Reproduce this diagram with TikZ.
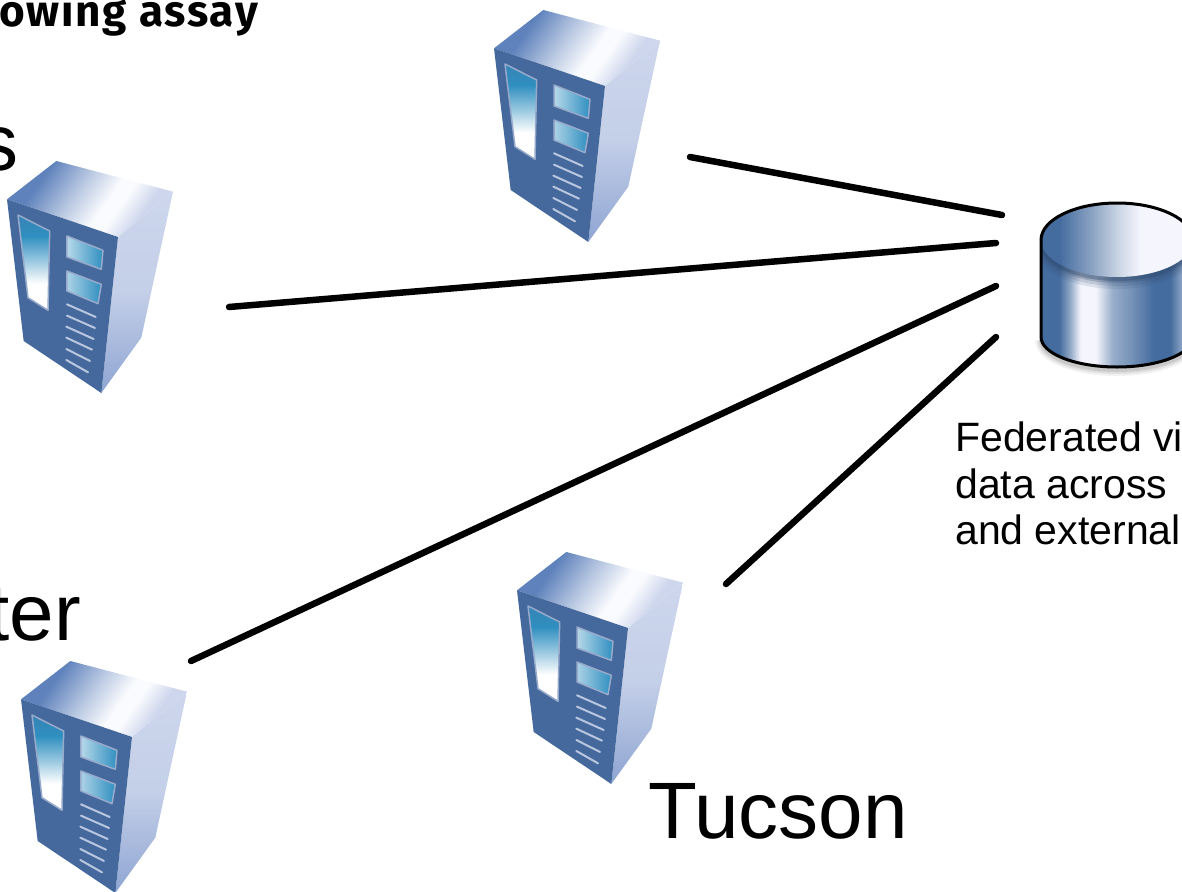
\documentclass[tikz,border=0pt]{standalone}
\usepackage{fontspec}
\setmainfont{Liberation Sans}
\newfontfamily\headfont[LetterSpace=4]{Fira Sans}
\definecolor{cylb}{HTML}{456C9F}
\definecolor{cylw}{HTML}{F4F5FD}
\definecolor{front}{HTML}{45699C}
\definecolor{winb}{HTML}{2F8FC0}
\definecolor{topb}{HTML}{5F82BC}
\definecolor{topl}{HTML}{FAFBFE}
\definecolor{sidel}{HTML}{CDD6EC}
\definecolor{sided}{HTML}{8EA5D2}
\pgfdeclarehorizontalshading{cylside}{100bp}{
 color(0bp)=(cylb); color(31bp)=(cylb); color(34.5bp)=(cylb!60!white); color(38bp)=(cylw);
 color(43bp)=(cylw); color(48.5bp)=(cylb!55!white); color(55bp)=(cylb!75!white); color(62bp)=(cylb);
 color(67.5bp)=(cylb); color(71.5bp)=(cylb!60!white); color(75bp)=(cylb!40!white); color(100bp)=(cylb!40!white)}
\pgfdeclarehorizontalshading{cyltop}{100bp}{
 color(0bp)=(cylb); color(31bp)=(cylb); color(42.5bp)=(cylb!60!white); color(50bp)=(cylb!30!white); color(57.5bp)=(cylw); color(100bp)=(cylw)}
\pgfdeclarehorizontalshading{topface}{100bp}{
 color(0bp)=(topb); color(30bp)=(topb); color(44bp)=(topb!45!white); color(56bp)=(topl); color(61bp)=(topl); color(70bp)=(sidel); color(100bp)=(sidel)}
\pgfdeclareverticalshading{bigwin}{100bp}{
 color(0bp)=(white); color(39bp)=(white); color(50bp)=(winb!45!white); color(64bp)=(winb); color(75bp)=(winb!70!front); color(100bp)=(winb!70!front)}
\tikzset{
 link/.style={line width=6.5pt,line cap=round,black},
 bigtxt/.style={font=\fontsize{80}{80}\selectfont,inner sep=0pt},
 smalltxt/.style={font=\fontsize{41}{46}\selectfont,inner sep=0pt,align=left},
 headtxt/.style={font=\headfont\bfseries\fontsize{44}{44}\selectfont,inner sep=0pt},
 slat/.style={line width=2pt,draw=sidel!85!front,line cap=round},
 winedge/.style={draw=sidel!60!front,line width=1.5pt,line join=round},
 pics/server/.style={code={
  % coordinates are those of a 3x enlargement, origin at top left of the unit
  \begin{scope}[x=0.3333pt,y=-0.3333pt]
   % right face
   \path[top color=sidel,bottom color=sided,middle color=sidel!85!sided] (375,258)--(540,122)--(445,560)--(325,726)--cycle;
   % top face
   \path[shading=topface,shading angle=-35] (42,145)--(190,30)--(540,122)--(375,258)--cycle;
   % front face
   \path[fill=front] (42,145)--(375,258)--(325,726)--(92,570)--cycle;
   % windows
   \path[winedge,shading=bigwin] (75,192)--(170,240)--(165,478)--(105,440)--cycle;
   \path[winedge,left color=winb!35!white,right color=winb] (222,255)--(330,298)--(325,355)--(222,318)--cycle;
   \path[winedge,left color=white!60!winb,right color=winb] (222,360)--(325,400)--(315,458)--(222,420)--cycle;
   % vents
   \draw[slat] (222,460)--(308,498);
   \draw[slat] (222,494)--(306,531);
   \draw[slat] (220,527)--(302,564);
   \draw[slat] (220,560)--(297,596);
   \draw[slat] (220,594)--(291,630);
   \draw[slat] (220,627)--(285,664);
  \end{scope}
 }}
}
\begin{document}
\begin{tikzpicture}[x=1pt,y=-1pt]
\useasboundingbox (0,0) rectangle (1182,891);
\clip (0,0) rectangle (1182,891);
\fill[white] (0,0) rectangle (1182,891);
% texts
\node[headtxt,anchor=base east] (head) at (258,27) {owing assay};
\node[bigtxt,anchor=base east] (labs) at (19,170) {s};
\node[bigtxt,anchor=base east] (center) at (81,640) {ter};
\node[bigtxt,anchor=base west] (tucson) at (648,838) {Tucson};
\node[smalltxt,anchor=base west] (fed1) at (955,451) {Federated vi};
\node[smalltxt,anchor=base west] (fed2) at (955,498) {data across};
\node[smalltxt,anchor=base west] (fed3) at (955,544) {and external};
% servers
\pic (s1) at (480,0) {server};
\pic (s2) at (-7,151) {server};
\pic (s3) at (503,542) {server};
\pic (s4) at (7,651) {server};
% database
\foreach \o/\w in {.05/12,.07/8,.1/4}
  \draw[black,opacity=\o,line width=\w pt] (1041,340) arc[start angle=180,end angle=0,x radius=76,y radius=30];
\path[shading=cylside] (1041,240)--(1041,337) arc[start angle=180,end angle=0,x radius=76,y radius=30]--(1193,240)--cycle;
\begin{scope}
 \clip (1041,240)--(1041,337) arc[start angle=180,end angle=0,x radius=76,y radius=30]--(1193,240)--cycle;
 \foreach \o/\w in {.12/20,.16/14,.25/8,.4/4}
  \draw[cylb!70!black,opacity=\o,line width=\w pt] (1041,241) arc[start angle=180,end angle=0,x radius=76,y radius=38];
\end{scope}
\path[shading=cyltop] (1117,240) ellipse[x radius=76,y radius=37];
\draw[black,line width=3pt,line join=round] (1041,240) arc[start angle=180,end angle=360,x radius=76,y radius=37]--(1193,337) arc[start angle=0,end angle=180,x radius=76,y radius=30]--cycle;
% connector ends
\coordinate (a1) at (690,157); \coordinate (b1) at (1002,215);
\coordinate (a2) at (229,307); \coordinate (b2) at (996,243);
\coordinate (a3) at (191,661); \coordinate (b3) at (996,286);
\coordinate (a4) at (726,584); \coordinate (b4) at (996,337);
\draw[link] (a1)--(b1);
\draw[link] (a2)--(b2);
\draw[link] (a3)--(b3);
\draw[link] (a4)--(b4);
\end{tikzpicture}
\end{document}
